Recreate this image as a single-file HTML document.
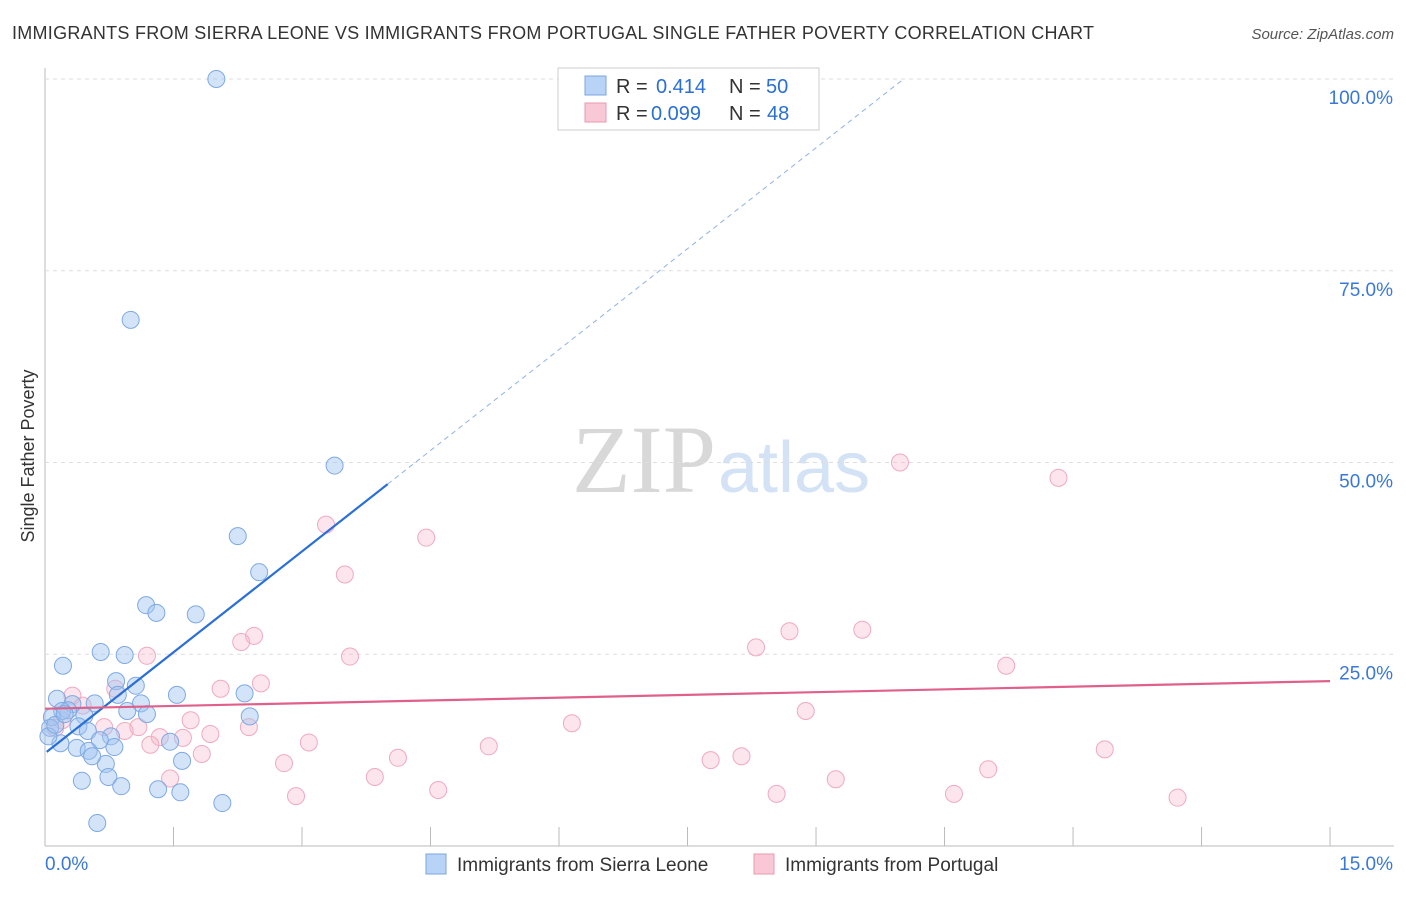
<!DOCTYPE html>
<html><head><meta charset="utf-8"><style>
body{margin:0;background:#fff;font-family:"Liberation Sans",sans-serif;}
svg text{font-family:"Liberation Sans",sans-serif;}
</style></head><body>
<svg id="chart" width="1406" height="892">
<text x="12" y="39" font-size="18" fill="#333" textLength="1082">IMMIGRANTS FROM SIERRA LEONE VS IMMIGRANTS FROM PORTUGAL SINGLE FATHER POVERTY CORRELATION CHART</text>
<text x="1394" y="39" font-size="15" fill="#555" font-style="italic" text-anchor="end">Source: ZipAtlas.com</text>
<text x="34" y="456" font-size="18" fill="#333" transform="rotate(-90 34 456)" text-anchor="middle">Single Father Poverty</text>
<text x="716" y="492" font-size="96" fill="#d8d8d8" text-anchor="end" style="font-family:'Liberation Serif',serif">ZIP</text>
<text x="718" y="492" font-size="72" fill="#d3e2f5">atlas</text>
<g id="grid"></g><g id="marks"></g>
<g>
<rect x="558" y="68" width="261" height="62" fill="#fff" stroke="#ccc"/>
<rect x="585" y="76" width="21" height="19" fill="#b8d3f5" stroke="#7aa6e0"/>
<rect x="585" y="103" width="21" height="19" fill="#f9c8d6" stroke="#e89ab0"/>
<text x="616" y="93" font-size="20" fill="#333">R =</text><text x="656" y="93" font-size="20" fill="#2a6fd6">0.414</text>
<text x="729" y="93" font-size="20" fill="#333">N =</text><text x="766" y="93" font-size="20" fill="#2a6fd6">50</text>
<text x="616" y="120" font-size="20" fill="#333">R =</text><text x="651" y="120" font-size="20" fill="#2a6fd6">0.099</text>
<text x="729" y="120" font-size="20" fill="#333">N =</text><text x="767" y="120" font-size="20" fill="#2a6fd6">48</text>
</g>
<g>
<rect x="426" y="854" width="20" height="20" fill="#b8d3f5" stroke="#7aa6e0"/>
<text x="457" y="871" font-size="19" fill="#333">Immigrants from Sierra Leone</text>
<rect x="754" y="854" width="20" height="20" fill="#f9c8d6" stroke="#e89ab0"/>
<text x="785" y="871" font-size="19" fill="#333">Immigrants from Portugal</text>
</g>
</svg>
<script>
const yTicks=[25,50,75,100];
const yTickLabels=["25.0%","50.0%","75.0%","100.0%"];
const xTicks=[0,1.5,3,4.5,6,7.5,9,10.5,12,13.5,15];
const blueX=[2.0,1.0,3.38,2.25,2.5,1.18,1.3,1.76,0.65,0.93,0.21,0.83,1.06,0.85,1.54,2.33,0.14,0.58,1.12,0.32,0.27,0.2,0.96,1.19,2.39,0.08,0.46,0.39,0.06,0.5,0.77,1.46,0.18,0.81,0.37,0.51,1.6,0.71,0.74,0.43,0.89,1.32,1.58,2.07,0.61,0.04,0.12,0.64,0.23,0.55];
const blueY=[100,68.6,49.6,40.4,35.7,31.4,30.4,30.2,25.3,24.9,23.5,21.5,20.9,19.7,19.7,19.9,19.2,18.6,18.6,18.5,17.7,17.6,17.6,17.2,16.9,16.8,17.0,15.6,15.4,15.0,14.3,13.6,13.4,12.9,12.8,12.4,11.1,10.7,9.0,8.5,7.8,7.4,7.0,5.6,3.0,14.3,15.8,13.8,17.2,11.7];
const pinkX=[9.98,11.83,3.28,4.45,3.5,2.44,2.29,8.69,9.54,8.3,1.19,3.56,11.22,2.52,2.05,0.82,0.32,0.44,1.7,6.15,8.88,0.69,1.09,2.38,0.12,1.93,1.61,1.34,3.08,5.18,12.37,1.83,4.12,8.13,7.77,2.79,11.01,3.85,1.46,9.23,4.59,2.93,8.54,10.61,13.22,0.93,0.2,1.23];
const pinkY=[50.0,48.0,41.9,40.2,35.4,27.4,26.6,28.0,28.2,25.9,24.8,24.7,23.5,21.2,20.5,20.5,19.6,18.3,16.4,16.0,17.6,15.5,15.5,15.5,15.4,14.6,14.1,14.2,13.5,13.0,12.6,12.0,11.5,11.7,11.2,10.8,10.0,9.0,8.8,8.7,7.3,6.5,6.8,6.8,6.3,15.0,16.4,13.2];
const blueFit=[12.1,8.77]; // intercept, slope
const pinkFit=[17.9,0.24];
const X=v=>45+v*85.67, Y=v=>846-v*7.67;
const NS="http://www.w3.org/2000/svg";
const grid=document.getElementById('grid'), marks=document.getElementById('marks');
function mk(p,tag,a){const e=document.createElementNS(NS,tag);for(const k in a)e.setAttribute(k,a[k]);p.appendChild(e);return e;}
const ax=mk(grid,'line',{x1:45,y1:68,x2:45,y2:846,stroke:'#bbb'});


const bx=mk(grid,'line',{x1:45,y1:846,x2:1394,y2:846,stroke:'#bbb'});


yTicks.forEach((t,i)=>{
 const l=mk(grid,'line',{x1:45,y1:Y(t),x2:1394,y2:Y(t),stroke:'#ddd','stroke-dasharray':'4,4'});
 
 
 const tx=mk(grid,'text',{x:1393,y:Y(t)+25,'font-size':19,fill:'#3a78d8','text-anchor':'end'});tx.textContent=yTickLabels[i];
 
 
});
xTicks.forEach(t=>{const l=mk(grid,'line',{x1:X(t),y1:827,x2:X(t),y2:846,stroke:'#bbb'});
 
 });
const x0=mk(grid,'text',{x:45,y:870,'font-size':19,fill:'#3a78d8'});x0.textContent='0.0%';


const x1=mk(grid,'text',{x:1393,y:870,'font-size':19,fill:'#3a78d8','text-anchor':'end'});x1.textContent='15.0%';


pinkX.forEach((x,i)=>{const c=mk(marks,'circle',{cx:X(x),cy:Y(pinkY[i]),r:8.5,fill:'rgba(246,180,200,0.35)',stroke:'#f0aac0','stroke-width':1});
 
 });
blueX.forEach((x,i)=>{const c=mk(marks,'circle',{cx:X(x),cy:Y(blueY[i]),r:8.5,fill:'rgba(160,196,240,0.45)',stroke:'#7ea9e4','stroke-width':1});
 
 });
const bEnd=4.0, bTop=(100-blueFit[0])/blueFit[1];
const bl=mk(marks,'line',{x1:X(0.02),y1:Y(blueFit[0]+blueFit[1]*0.02),x2:X(bEnd),y2:Y(blueFit[0]+blueFit[1]*bEnd),stroke:'#2a6fd6','stroke-width':2.2});


const bd=mk(marks,'line',{x1:X(bEnd),y1:Y(blueFit[0]+blueFit[1]*bEnd),x2:X(bTop),y2:Y(100),stroke:'#8fb2e6','stroke-width':1,'stroke-dasharray':'5,4'});


const pl=mk(marks,'line',{x1:X(0),y1:Y(pinkFit[0]),x2:X(15),y2:Y(pinkFit[0]+pinkFit[1]*15),stroke:'#e0608a','stroke-width':2.2});


</script>
</body></html>
